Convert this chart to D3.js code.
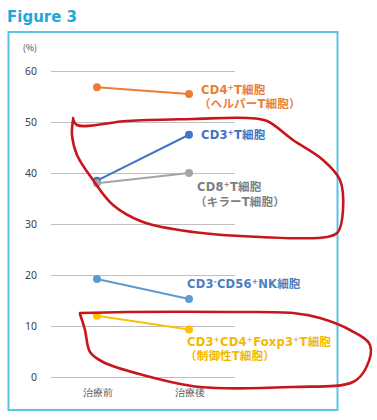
<!DOCTYPE html>
<html>
<head>
<meta charset="utf-8">
<script src="https://cdn.jsdelivr.net/npm/d3@7"></script>
<style>
  body { margin: 0; background: #fff; }
  svg { display: block; font-family: "Noto Sans CJK JP", "Noto Sans", sans-serif; }
</style>
</head>
<body>
<div id="main"></div>
<script>
const categories = ["治療前", "治療後"];
const yTicks = [0, 10, 20, 30, 40, 50, 60];

// values (%)
const cd4Values = [56.8, 55.5];
const cd3Values = [38.5, 47.5];
const cd8Values = [38.0, 40.0];
const nkValues = [19.2, 15.3];
const tregValues = [12.0, 9.3];

const series = [
  { key: "cd4", values: cd4Values, color: "#ed7d31", textColor: "#ed7d31",
    label: [[["CD4", ""], ["+", "sup"], ["T細胞", ""]], [["（ヘルパーT細胞）", ""]]], dx: 12, dy: 0 },
  { key: "cd3", values: cd3Values, color: "#4472c4", textColor: "#4472c4",
    label: [[["CD3", ""], ["+", "sup"], ["T細胞", ""]]], dx: 12, dy: 4 },
  { key: "cd8", values: cd8Values, color: "#a5a5a5", textColor: "#7f7f7f",
    label: [[["CD8", ""], ["+", "sup"], ["T細胞", ""]], [["（キラーT細胞）", ""]]], dx: 8, dy: 18 },
  { key: "nk", values: nkValues, color: "#5b9bd5", textColor: "#4a7fc1",
    label: [[["CD3", ""], ["-", "sup"], ["CD56", ""], ["+", "sup"], ["NK細胞", ""]]], dx: -2, dy: -11 },
  { key: "treg", values: tregValues, color: "#ffc000", textColor: "#f2b800",
    label: [[["CD3", ""], ["+", "sup"], ["CD4", ""], ["+", "sup"], ["Foxp3", ""], ["+", "sup"], ["T細胞", ""]], [["（制御性T細胞）", ""]]], dx: -2, dy: 16 }
];

// hand-drawn red annotation loops (pixel space, drawn over the chart)
const loopUpper = [[73, 118], [77, 125], [127, 121], [193, 119], [247, 118], [267, 121], [293, 140], [323, 160], [340, 180], [343, 210], [338, 232], [327, 237], [260, 237], [193, 232], [143, 222], [113, 205], [93, 180], [77, 155], [72, 135], [73, 120]];
const loopLower = [[80, 313], [127, 312], [227, 312], [293, 313], [320, 318], [350, 330], [370, 345], [366, 368], [353, 382], [293, 387], [200, 387], [143, 375], [103, 362], [90, 352], [85, 330], [80, 314]];

const W = 377, H = 420;
const plot = { left: 51, right: 235, top: 71, bottom: 377 };

const svg = d3.select("#main").append("svg")
  .attr("width", W)
  .attr("height", H);

svg.append("text")
  .attr("x", 7)
  .attr("y", 22)
  .attr("font-family", "Verdana, 'DejaVu Sans', sans-serif")
  .attr("font-weight", "bold")
  .attr("font-size", 15)
  .attr("fill", "#1ea7dc")
  .text("Figure 3");

svg.append("rect")
  .attr("x", 8.5)
  .attr("y", 32)
  .attr("width", 329)
  .attr("height", 378)
  .attr("fill", "none")
  .attr("stroke", "#5cc3e4")
  .attr("stroke-width", 2);

const x = d3.scalePoint().domain(categories).range([plot.left, plot.right]).padding(0.5);
const y = d3.scaleLinear().domain([0, 60]).range([plot.bottom, plot.top]);

// gridlines + tick labels
const yAxis = d3.axisLeft(y).tickValues(yTicks).tickSize(-(plot.right - plot.left)).tickPadding(14);
const gy = svg.append("g").attr("transform", `translate(${plot.left},0)`).call(yAxis);
gy.select(".domain").remove();
gy.selectAll(".tick line").attr("stroke", "#bfbfbf").attr("stroke-width", 1.2);
gy.selectAll(".tick text")
  .attr("fill", "#404040")
  .attr("font-size", 10.5)
  .attr("font-family", "'Noto Sans', sans-serif");

svg.append("text")
  .attr("x", 37)
  .attr("y", 51)
  .attr("text-anchor", "end")
  .attr("font-size", 9)
  .attr("fill", "#404040")
  .text("(%)");

const xAxis = d3.axisBottom(x).tickSize(0).tickPadding(12);
const gx = svg.append("g").attr("transform", `translate(0,${plot.bottom})`).call(xAxis);
gx.select(".domain").remove();
gx.selectAll(".tick text").attr("fill", "#595959").attr("font-size", 9.5);

// series lines and markers
const line = d3.line().x((d, i) => x(categories[i])).y((d) => y(d));

const sg = svg.append("g").selectAll("g").data(series).join("g");
sg.append("path")
  .attr("d", (d) => line(d.values))
  .attr("fill", "none")
  .attr("stroke", (d) => d.color)
  .attr("stroke-width", 2);
sg.selectAll("circle")
  .data((d) => d.values.map((v, i) => ({ v, i, color: d.color })))
  .join("circle")
  .attr("cx", (d) => x(categories[d.i]))
  .attr("cy", (d) => y(d.v))
  .attr("r", 4)
  .attr("fill", (d) => d.color);

// labels next to the last point, one <text> per row
sg.each(function (d) {
  const last = d.values.length - 1;
  const x0 = x(categories[last]) + d.dx;
  const y0 = y(d.values[last]) + d.dy;
  d.label.forEach((row, r) => {
    const t = d3.select(this).append("text")
      .attr("x", x0 + (r > 0 ? -2 : 0))
      .attr("y", y0 + r * 14.5)
      .attr("fill", d.textColor)
      .attr("font-family", "'DejaVu Sans', 'Noto Sans CJK JP', sans-serif")
      .attr("font-size", 11.5)
      .attr("font-weight", 600)
      .attr("letter-spacing", 0.2);
    row.forEach(([txt, kind]) => {
      const ts = t.append("tspan").text(txt);
      if (kind === "sup") ts.attr("font-size", 7.5).attr("baseline-shift", "super");
    });
  });
});

// red annotation ink
const ink = d3.line().curve(d3.curveCatmullRom.alpha(0.5));
svg.append("g").selectAll("path")
  .data([loopUpper, loopLower])
  .join("path")
  .attr("d", (d) => ink(d))
  .attr("fill", "none")
  .attr("stroke", "#c8161d")
  .attr("stroke-width", 2.6)
  .attr("stroke-linecap", "round")
  .attr("stroke-linejoin", "round");
</script>
</body>
</html>
